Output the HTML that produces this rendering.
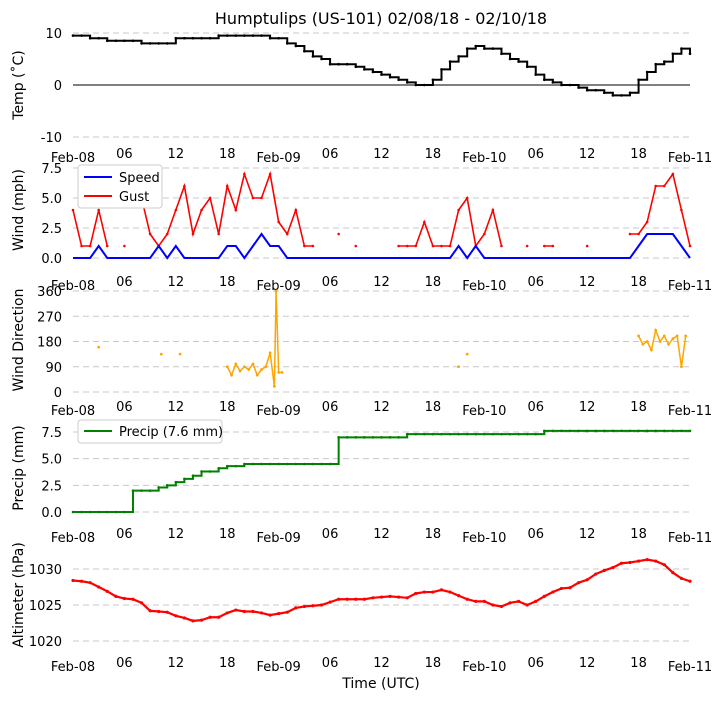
<!DOCTYPE html>
<html><head><meta charset="utf-8"><style>
body{margin:0;background:#fff;width:722px;height:700px;overflow:hidden}
svg{font-family:"DejaVu Sans","Liberation Sans",sans-serif}
</style></head><body>
<svg id="c" width="722" height="700" xmlns="http://www.w3.org/2000/svg">
<text x="381" y="24" font-size="16" text-anchor="middle">Humptulips (US-101) 02/08/18 - 02/10/18</text>
<text x="381" y="688" font-size="14" text-anchor="middle">Time (UTC)</text>
</svg>
<script>
const hours=[];for(let i=0;i<=72;i++)hours.push(i);
const xTickLabels=["Feb-08","06","12","18","Feb-09","06","12","18","Feb-10","06","12","18","Feb-11"];
const temp=[9.5,9.5,9,9,8.5,8.5,8.5,8.5,8,8,8,8,9,9,9,9,9,9.5,9.5,9.5,9.5,9.5,9.5,9,9,8,7.5,6.5,5.5,5,4,4,4,3.5,3,2.5,2,1.5,1,0.5,0,0,1,3,4.5,5.5,7,7.5,7,7,6,5,4.5,3.5,2,1,0.5,0,0,-0.5,-1,-1,-1.5,-2,-2,-1.5,1,2.5,4,4.5,6,7,6];
const speed=[0,0,0,1,0,0,0,0,0,0,1,0,1,0,0,0,0,0,1,1,0,1,2,1,1,0,0,0,0,0,0,0,0,0,0,0,0,0,0,0,0,0,0,0,0,1,0,1,0,0,0,0,0,0,0,0,0,0,0,0,0,0,0,0,0,0,1,2,2,2,2,1,0];
const gust=[4,1,1,4,1,null,1,null,5,2,1,2,4,6,2,4,5,2,6,4,7,5,5,7,3,2,4,1,1,null,null,2,null,1,null,null,null,null,1,1,1,3,1,1,1,4,5,1,2,4,1,null,null,1,null,1,1,null,null,null,1,null,null,null,null,2,2,3,6,6,7,4,1];
const dirTimes=[3,10.3,12.5,18,18.5,19,19.5,20,20.5,21,21.5,22,22.5,23,23.5,23.7,24,24.4,45,46,66,66.5,67,67.5,68,68.5,69,69.5,70,70.5,71,71.5];
const dirValues=[160,135,135,90,60,100,75,90,80,100,60,80,90,140,20,360,70,70,90,135,200,170,180,150,220,180,200,170,190,200,90,200];
const precip=[0,0,0,0,0,0,0,2,2,2,2.3,2.5,2.8,3.1,3.4,3.8,3.8,4.1,4.3,4.3,4.5,4.5,4.5,4.5,4.5,4.5,4.5,4.5,4.5,4.5,4.5,7,7,7,7,7,7,7,7,7.3,7.3,7.3,7.3,7.3,7.3,7.3,7.3,7.3,7.3,7.3,7.3,7.3,7.3,7.3,7.3,7.6,7.6,7.6,7.6,7.6,7.6,7.6,7.6,7.6,7.6,7.6,7.6,7.6,7.6,7.6,7.6,7.6,7.6];
const altim=[1028.4,1028.3,1028.1,1027.5,1026.9,1026.2,1025.9,1025.8,1025.3,1024.2,1024.1,1024,1023.5,1023.2,1022.8,1022.9,1023.3,1023.3,1023.9,1024.3,1024.1,1024.1,1023.9,1023.6,1023.8,1024,1024.6,1024.8,1024.9,1025,1025.4,1025.8,1025.8,1025.8,1025.8,1026,1026.1,1026.2,1026.1,1026,1026.6,1026.8,1026.8,1027.1,1026.8,1026.3,1025.8,1025.5,1025.5,1025,1024.8,1025.3,1025.5,1025,1025.5,1026.2,1026.8,1027.3,1027.4,1028.1,1028.5,1029.3,1029.8,1030.2,1030.8,1030.9,1031.1,1031.3,1031.1,1030.6,1029.5,1028.7,1028.3];

const svg=document.getElementById('c');const NS='http://www.w3.org/2000/svg';
function mk(tag,attrs,parent){const e=document.createElementNS(NS,tag);for(const k in attrs)e.setAttribute(k,attrs[k]);(parent||svg).appendChild(e);return e;}
const X0=73,X1=690;const xs=h=>X0+h*(X1-X0)/72;
function panel(name,min,max,yTop,yBot,ticks,tickFmt,xlabY,title,titleY){
  const ys=v=>yBot-(v-min)/(max-min)*(yBot-yTop);
  const g=mk('g',{});
  
  
  ticks.forEach(t=>{
    const l=mk('line',{x1:X0,x2:X1,y1:ys(t),y2:ys(t),stroke:'#c8c8c8','stroke-dasharray':'6,4','stroke-width':1},g);
    
    
    const tx=mk('text',{x:62,y:ys(t)+5,'font-size':13,'text-anchor':'end'},g);tx.textContent=tickFmt(t);
    
    
  });
  xTickLabels.forEach((s,i)=>{
    const big=s.startsWith('Feb');
    const tx=mk('text',{x:xs(i*6),y:xlabY+(big?4:0),'font-size':13,'text-anchor':'middle'},g);tx.textContent=s;
    
    
  });
  const tt=mk('text',{x:0,y:0,'font-size':14,'text-anchor':'middle',transform:`translate(23,${titleY}) rotate(-90)`},g);tt.textContent=title;
  
  
  return {ys,g};
}
function stepPath(vals,xf,yf){let d='';vals.forEach((v,i)=>{if(i==0)d+=`M${xf(i)},${yf(v)}`;else d+=`H${xf(i)}V${yf(v)}`;});return d;}
function linePath(times,vals,xf,yf,gap){let d='',prev=null;vals.forEach((v,i)=>{if(v===null||v===undefined){prev=null;return;}const t=times[i];d+=(prev===null||(gap&&t-prev>gap)?'M':'L')+xf(t)+','+yf(v);prev=t;});return d;}
function dots(times,vals,xf,yf,color,name,g,r){vals.forEach((v,i)=>{if(v===null)return;const c=mk('circle',{cx:xf(times[i]),cy:yf(v),r:r||1.3,fill:color},g);});}

// Temp
let p=panel('temp',-10,10,33,137,[10,-10],t=>t,158,'Temp (˚C)',85);
let z=mk('line',{x1:X0,x2:X1,y1:p.ys(0),y2:p.ys(0),stroke:'#000','stroke-width':1},p.g);

let tz=mk('text',{x:62,y:p.ys(0)+5,'font-size':13,'text-anchor':'end'},p.g);tz.textContent='0';

let ln=mk('path',{d:stepPath(temp,xs,p.ys),fill:'none',stroke:'#000','stroke-width':2},p.g);

dots(hours,temp,xs,p.ys,'#000','temp-point',p.g);

// Wind
p=panel('wind',0,7.5,168,258,[0,2.5,5,7.5],t=>t.toFixed(1),286,'Wind (mph)',210);
ln=mk('path',{d:linePath(hours,gust,xs,p.ys,1.5),fill:'none',stroke:'#f00','stroke-width':1.6},p.g);

dots(hours,gust,xs,p.ys,'#f00','gust-point',p.g);
ln=mk('path',{d:linePath(hours,speed,xs,p.ys),fill:'none',stroke:'#00f','stroke-width':2},p.g);

let lg=mk('g',{},p.g);
mk('rect',{x:78,y:165,width:84,height:43,fill:'#fff',stroke:'#ccc',rx:3},lg);
mk('line',{x1:84,x2:112,y1:177,y2:177,stroke:'#00f','stroke-width':2},lg);
let lt=mk('text',{x:119,y:182,'font-size':13},lg);lt.textContent='Speed';

mk('line',{x1:84,x2:112,y1:196,y2:196,stroke:'#f00','stroke-width':2},lg);
lt=mk('text',{x:119,y:201,'font-size':13},lg);lt.textContent='Gust';


// Direction
p=panel('direction',0,360,291,392,[0,90,180,270,360],t=>t,411,'Wind Direction',340);
ln=mk('path',{d:linePath(dirTimes,dirValues,xs,p.ys,0.6),fill:'none',stroke:'#ffa500','stroke-width':1.5},p.g);

dots(dirTimes,dirValues,xs,p.ys,'#ffa500','direction-point',p.g,1.4);

// Precip
p=panel('precip',0,7.5,432,512,[0,2.5,5,7.5],t=>t.toFixed(1),538,'Precip (mm)',468);
ln=mk('path',{d:stepPath(precip,xs,p.ys),fill:'none',stroke:'#008000','stroke-width':2},p.g);

dots(hours,precip,xs,p.ys,'#008000','precip-point',p.g);
lg=mk('g',{},p.g);
mk('rect',{x:78,y:420,width:144,height:23,fill:'#fff',stroke:'#ccc',rx:3},lg);
mk('line',{x1:84,x2:112,y1:431,y2:431,stroke:'#008000','stroke-width':2},lg);
lt=mk('text',{x:119,y:436,'font-size':13},lg);lt.textContent='Precip (7.6 mm)';


// Altimeter
p=panel('altimeter',1020,1030,569,641,[1020,1025,1030],t=>t,667,'Altimeter (hPa)',595);
ln=mk('path',{d:linePath(hours,altim,xs,p.ys),fill:'none',stroke:'#f00','stroke-width':2.2},p.g);

dots(hours,altim,xs,p.ys,'#f00','altimeter-point',p.g,1.6);
</script>
</body></html>
